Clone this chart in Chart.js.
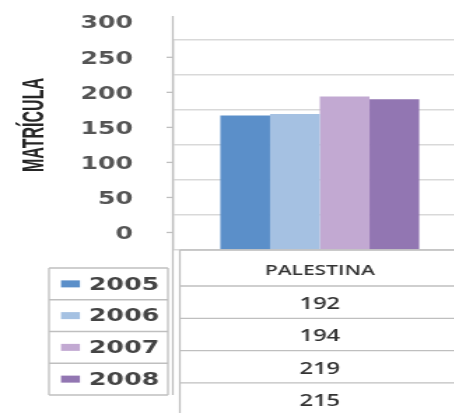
<!DOCTYPE html>
<html>
<head>
<meta charset="utf-8">
<script src="https://cdn.jsdelivr.net/npm/chart.js@4"></script>
<style>
  html, body { margin: 0; padding: 0; background: #fff; overflow: hidden; }
  #wrap { width: 454px; height: 413px; overflow: hidden; }
</style>
</head>
<body>
<!-- the source picture is stretched sideways, so the canvas is too -->
<div id="wrap"><canvas id="chart" width="333" height="413" style="width:466px;height:413px"></canvas></div>
<script>
/* ===== data ===== */
const years = ["2005", "2006", "2007", "2008"];
const regions = ["PALESTINA"];
const matricula = [192, 194, 219, 215];
const yTicks = [0, 50, 100, 150, 200, 250, 300];
const colors = ["#5b8fc9", "#a5c1e2", "#c2a9d2", "#9276b2"];

const GRID = "#d9d9d9";
const LINE = "#bfbfbf";
const TEXT = "#555";

// tablas de leyenda y de datos bajo el gráfico
const tablePlugin = {
  id: "tables",
  afterDraw(chart) {
    const { ctx, chartArea: a, scales } = chart;
    const W = chart.width;
    ctx.save();

    // eje vertical prolongado + marcas
    ctx.strokeStyle = LINE; ctx.lineWidth = 1.3;
    ctx.beginPath(); ctx.moveTo(a.left - 0.5, 16); ctx.lineTo(a.left - 0.5, 395); ctx.stroke();
    for (let v = 25; v < 300; v += 50) {
      const y = scales.y.getPixelForValue(v);
      ctx.beginPath(); ctx.moveTo(a.left - 5, y); ctx.lineTo(a.left, y); ctx.stroke();
    }

    // título del eje
    ctx.save();
    ctx.translate(24.3, 125);
    ctx.rotate(-Math.PI / 2);
    ctx.font = "bold 22px 'Liberation Sans', Arial, sans-serif";
    const tw = ctx.measureText("MATRÍCULA").width;
    ctx.scale(94 / tw, 1);
    ctx.fillStyle = "#262626";
    ctx.textAlign = "center"; ctx.textBaseline = "middle";
    ctx.fillText("MATRÍCULA", 0, 1);
    ctx.restore();

    // tabla de datos
    const tx = a.left + 4.5;
    const rows = [a.bottom, a.bottom + 36];
    for (let i = 0; i < years.length; i++) rows.push(rows[rows.length - 1] + 32.3);
    ctx.strokeStyle = LINE; ctx.lineWidth = 1.3;
    rows.forEach(y => { ctx.beginPath(); ctx.moveTo(tx, y); ctx.lineTo(W, y); ctx.stroke(); });
    ctx.beginPath(); ctx.moveTo(tx, a.bottom); ctx.lineTo(tx, 413); ctx.stroke();

    const cx = scales.x.getPixelForValue(0);
    ctx.fillStyle = "#333"; ctx.textAlign = "center"; ctx.textBaseline = "middle";
    ctx.font = "600 15px 'Open Sans', sans-serif";
    ctx.fillText(regions[0], cx, (rows[0] + rows[1]) / 2 + 3);
    ctx.font = "600 17px 'Open Sans', sans-serif";
    matricula.forEach((v, i) => ctx.fillText(String(v), cx, (rows[i + 1] + rows[i + 2]) / 2 + 2));

    // leyenda
    const lx0 = 35, lx1 = 120, lTop = 268, lh = 31.75;
    ctx.strokeStyle = LINE;
    for (let i = 0; i <= years.length; i++) {
      const y = lTop + i * lh;
      ctx.beginPath(); ctx.moveTo(lx0, y); ctx.lineTo(lx1, y); ctx.stroke();
    }
    ctx.beginPath(); ctx.moveTo(lx0, lTop); ctx.lineTo(lx0, lTop + years.length * lh); ctx.stroke();
    ctx.beginPath(); ctx.moveTo(lx1, lTop); ctx.lineTo(lx1, lTop + years.length * lh); ctx.stroke();

    ctx.font = "bold 18px 'DejaVu Sans', sans-serif";
    ctx.textAlign = "left";
    years.forEach((yr, i) => {
      const cy = lTop + i * lh + lh / 2;
      ctx.fillStyle = colors[i];
      ctx.fillRect(43.6, cy - 3.5, 13.5, 7);
      ctx.fillStyle = "#444";
      ctx.fillText(yr, 63.6, cy + 1);
    });

    ctx.restore();
  }
};

new Chart(document.getElementById("chart"), {
  type: "bar",
  data: {
    labels: regions,
    datasets: years.map((yr, i) => ({
      label: yr, data: [matricula[i]], backgroundColor: colors[i],
      borderWidth: 0, categoryPercentage: 0.68, barPercentage: 1
    }))
  },
  options: {
    responsive: false, devicePixelRatio: 1, animation: false,
    layout: { padding: { left: 0, right: 0, top: 34, bottom: 163 } },
    plugins: { legend: { display: false }, tooltip: { enabled: false } },
    scales: {
      x: { display: false },
      y: {
        min: 0, max: 300,
        afterBuildTicks: s => { s.ticks = yTicks.map(v => ({ value: v })); },
        afterFit: s => { s.width = 124; },
        grid: { color: GRID, lineWidth: 1.5, drawTicks: false },
        border: { display: true, color: LINE, width: 1.3 },
        ticks: { padding: 29, labelOffset: -16, color: TEXT,
          font: { family: "'DejaVu Sans'", weight: "bold", size: 18 } }
      }
    }
  },
  plugins: [tablePlugin]
});
</script>
</body>
</html>
